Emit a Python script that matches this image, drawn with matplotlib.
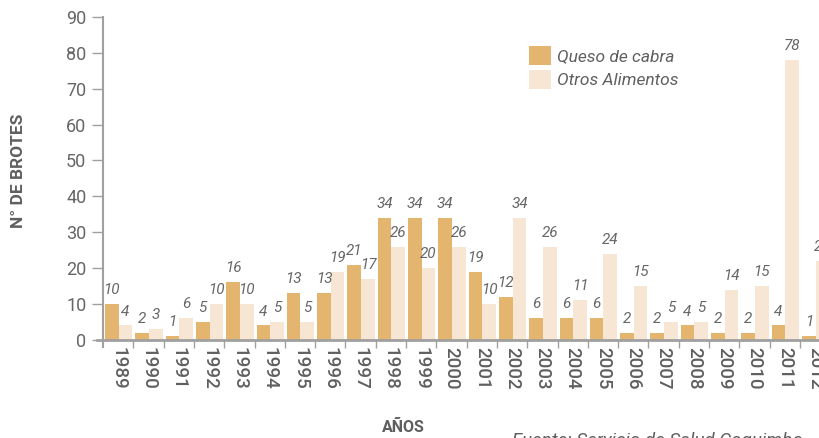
import numpy as np
import matplotlib.pyplot as plt

years = [str(y) for y in range(1989, 2013)]
queso = [10, 2, 1, 5, 16, 4, 13, 13, 21, 34, 34, 34, 19, 12, 6, 6, 6, 2, 2, 4, 2, 2, 4, 1]
otros = [4, 3, 6, 10, 10, 5, 5, 19, 17, 26, 20, 26, 10, 34, 26, 11, 24, 15, 5, 5, 14, 15, 78, 22]

c_queso = "#E4B56E"
c_otros = "#F7E6D3"
grey = "#5f5f5f"
axis_grey = "#a0a0a0"

plt.rcParams['font.family'] = ['Roboto', 'DejaVu Sans']

fig = plt.figure(figsize=(8.2, 4.38), dpi=100)
ax = fig.add_axes([97 / 820, 91 / 438, 723 / 820, 330 / 438])

x = np.arange(len(years))
w = 0.45
ax.bar(x - 0.21, queso, w, color=c_queso, label="Queso de cabra")
ax.bar(x + 0.24, otros, w, color=c_otros, label="Otros Alimentos")

for xi, v in zip(x - 0.21, queso):
    ax.annotate(str(v), (xi, v), xytext=(0, 5), textcoords="offset points",
                ha="center", va="bottom", fontsize=11, style="italic", color="#666666")
for xi, v in zip(x + 0.24, otros):
    ax.annotate(str(v), (xi, v), xytext=(0, 5), textcoords="offset points",
                ha="center", va="bottom", fontsize=11, style="italic", color="#666666",
                annotation_clip=False)

ax.set_xlim(-0.7, 23.16)
ax.set_ylim(-2, 90)

for s in ["top", "right"]:
    ax.spines[s].set_visible(False)
ax.spines["left"].set_position(("data", -0.5))
ax.spines["left"].set_color(axis_grey)
ax.spines["left"].set_linewidth(1.5)
ax.spines["bottom"].set_position(("data", 0))
ax.spines["bottom"].set_color(axis_grey)
ax.spines["bottom"].set_linewidth(2)

ax.set_yticks(range(0, 91, 10))
ax.tick_params(axis="y", length=8, width=1, color=axis_grey, labelsize=13,
               labelcolor="#666666", pad=4)
ax.set_xticks(x)
ax.set_xticklabels(years, rotation=-90, fontsize=13.5, fontweight="medium", color=grey)
ax.tick_params(axis="x", length=0, pad=5)
ax.set_xticks(x[1:] - 0.5, minor=True)
ax.tick_params(axis="x", which="minor", length=6, width=1, color=axis_grey)

fig.text(19 / 820, 1 - 171 / 438, "N° DE BROTES", rotation=90, ha="center", va="center",
         fontsize=12.5, fontweight="bold", color=grey)
fig.text(403 / 820, 1 - 427 / 438, "AÑOS", ha="center", va="center",
         fontsize=11.5, fontweight="bold", color=grey)
fig.text(512 / 820, 1 - 432 / 438, "Fuente: Servicio de Salud Coquimbo", ha="left", va="top",
         fontsize=13.5, style="italic", color=grey)

leg = ax.legend(loc="upper left", bbox_to_anchor=(513 / 820, 1 - 30 / 438),
                bbox_transform=fig.transFigure, frameon=False, fontsize=12.5,
                handlelength=1.3, handleheight=1.3, handletextpad=0.35, labelspacing=0.3)
for t in leg.get_texts():
    t.set_style("italic")
    t.set_color(grey)

fig.savefig("out.png", dpi=100)
